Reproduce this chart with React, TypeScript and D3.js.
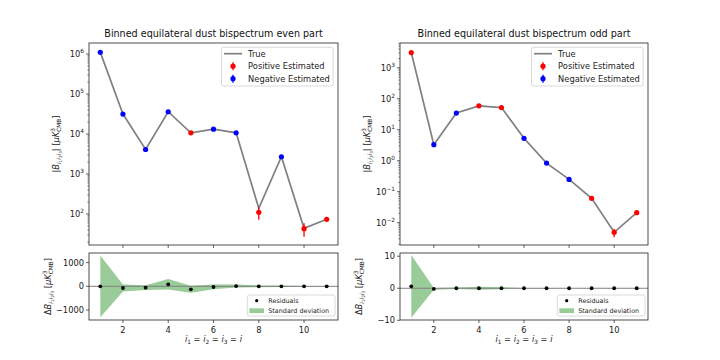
import * as d3 from 'd3';
import React, { useRef, useEffect } from 'react';

const W = 720;
const H = 360;

const bins = [1, 2, 3, 4, 5, 6, 7, 8, 9, 10, 11];
const xTicks = [2, 4, 6, 8, 10];

// even part of the binned bispectrum
const trueEven = [1.1e6, 3.15e4, 4.1e3, 3.6e4, 1.07e4, 1.32e4, 1.07e4, 139, 2.7e3, 44, 74];
const estEven = [-1.1e6, -3.15e4, -4.1e3, -3.6e4, 1.07e4, -1.32e4, -1.07e4, 110, -2.7e3, 43, 74];
const residEven = [0, -70, -55, 85, -125, -28, 12, 0, 0, 0, 0];
const stdEven = [1300, 150, 100, 220, 150, 100, 60, 38, 30, 16, 10];
const resTicksEven = [-1000, 0, 1000];

// odd part
const trueOdd = [3100, 3.3, 34.6, 59, 52, 5.3, 0.84, 0.25, 0.061, 0.0049, 0.021];
const estOdd = [3100, -3.3, -34.6, 59, 52, -5.3, -0.84, -0.25, 0.061, 0.0049, 0.021];
const residOdd = [0.6, -0.2, 0, 0, 0, 0, 0, 0, 0, 0, 0];
const stdOdd = [9.8, 0.3, 0.2, 0.5, 0.3, 0.1, 0.05, 0.02, 0.01, 0.0015, 0.003];
const resTicksOdd = [-10, 0, 10];

const FONT = 'DejaVu Sans, sans-serif';
const fs = 8.3;

// write a little mathtext-ish label with tspans
function mathText(sel, segs) {
  let cur = 0;
  segs.forEach((s) => {
    const ts = sel.append('tspan').text(s.t).style('font-size', `${s.size || fs}px`);
    const shift = s.b || 0;
    if (shift - cur !== 0) ts.attr('dy', shift - cur);
    if (s.dx) ts.attr('dx', s.dx);
    if (s.it) ts.style('font-style', 'italic');
    cur = shift;
  });
}

const subIdx = [
  { t: 'i', size: 5.8, b: 2, it: true },
  { t: '1', size: 4.2, b: 3.4 },
  { t: 'i', size: 5.8, b: 2, it: true },
  { t: '2', size: 4.2, b: 3.4 },
  { t: 'i', size: 5.8, b: 2, it: true },
  { t: '3', size: 4.2, b: 3.4 },
];
const unit = [
  { t: ' [', b: 0 },
  { t: 'μK', it: true, b: 0 },
  { t: '3', size: 5.8, b: -3.6 },
  { t: 'CMB', size: 5.8, b: 2.2, dx: -3.7 },
  { t: ']', b: 0 },
];
const topLabel = [{ t: '|', b: 0 }, { t: 'B', it: true, b: 0 }, ...subIdx, { t: '|', b: 0 }, ...unit];
const botLabel = [{ t: 'Δ', b: 0 }, { t: 'B', it: true, b: 0 }, ...subIdx, ...unit];
const xLabel = [
  { t: 'i', it: true, b: 0 }, { t: '1', size: 5.8, b: 2 }, { t: ' = ', b: 0 },
  { t: 'i', it: true, b: 0 }, { t: '2', size: 5.8, b: 2 }, { t: ' = ', b: 0 },
  { t: 'i', it: true, b: 0 }, { t: '3', size: 5.8, b: 2 }, { t: ' = ', b: 0 },
  { t: 'i', it: true, b: 0 },
];

const supDigits = (e) => (e < 0 ? '−' + Math.abs(e) : String(e));
const fmtLin = (v) => (v < 0 ? '−' + Math.abs(v) : String(v));

function Panel({ x0, x1, title, trueVals, estVals, resid, std, logDomain, resDomain, resTicks }) {
  const ref = useRef(null);

  useEffect(() => {
    const g = d3.select(ref.current);
    g.selectAll('*').remove();
    g.style('font-family', FONT);

    const top0 = 43, top1 = 245, bot0 = 253, bot1 = 320;
    const x = d3.scaleLinear().domain([0.5, 11.5]).range([x0, x1]);
    const y = d3.scaleLog().domain(logDomain).range([top1, top0]);
    const yr = d3.scaleLinear().domain(resDomain).range([bot1, bot0]);

    // ---- top panel ----
    const line = d3.line().x((d, i) => x(bins[i])).y((d) => y(Math.abs(d)));
    g.append('path')
      .datum(trueVals)
      .attr('d', line)
      .attr('fill', 'none')
      .attr('stroke', 'gray')
      .attr('stroke-width', 1.7);

    const pts = g.append('g');
    estVals.forEach((v, i) => {
      const c = v >= 0 ? 'red' : 'blue';
      const a = Math.abs(v);
      const lo = Math.max(a - std[i], logDomain[0]);
      pts.append('line')
        .attr('x1', x(bins[i])).attr('x2', x(bins[i]))
        .attr('y1', y(lo)).attr('y2', y(a + std[i]))
        .attr('stroke', c).attr('stroke-width', 1.3);
      pts.append('circle')
        .attr('cx', x(bins[i])).attr('cy', y(a))
        .attr('r', 2.6).attr('fill', c);
    });

    // log ticks
    const [lo, hi] = logDomain;
    const eLo = Math.floor(Math.log10(lo));
    const eHi = Math.ceil(Math.log10(hi));
    for (let e = eLo; e <= eHi; e++) {
      for (let k = 1; k <= 9; k++) {
        const v = k * Math.pow(10, e);
        if (v < lo || v > hi) continue;
        const yy = y(v);
        g.append('line')
          .attr('x1', x0).attr('x2', x0 - (k === 1 ? 3 : 1.7))
          .attr('y1', yy).attr('y2', yy)
          .attr('stroke', '#222').attr('stroke-width', k === 1 ? 0.7 : 0.5);
        if (k === 1) {
          const t = g.append('text')
            .attr('x', x0 - 5).attr('y', yy + 3)
            .attr('text-anchor', 'end')
            .attr('fill', '#222');
          t.append('tspan').text('10').style('font-size', `${fs}px`);
          t.append('tspan').text(supDigits(e)).style('font-size', '5.8px').attr('dy', -3.8);
        }
      }
    }
    xTicks.forEach((v) => {
      g.append('line')
        .attr('x1', x(v)).attr('x2', x(v))
        .attr('y1', top1).attr('y2', top1 + 3)
        .attr('stroke', '#222').attr('stroke-width', 0.7);
    });

    g.append('rect')
      .attr('x', x0).attr('y', top0)
      .attr('width', x1 - x0).attr('height', top1 - top0)
      .attr('fill', 'none').attr('stroke', '#222').attr('stroke-width', 0.8);

    g.append('text')
      .attr('x', (x0 + x1) / 2).attr('y', top0 - 6)
      .attr('text-anchor', 'middle')
      .style('font-size', '9.6px')
      .attr('fill', '#111')
      .text(title);

    const yl = g.append('text')
      .attr('transform', `translate(${x0 - 30},${(top0 + top1) / 2}) rotate(-90)`)
      .attr('text-anchor', 'middle').attr('fill', '#222');
    mathText(yl, topLabel);

    // legend (top)
    const lx = x1 - 116.5, ly = 47.3;
    const lg = g.append('g');
    lg.append('rect')
      .attr('x', lx).attr('y', ly).attr('width', 111.6).attr('height', 38.7)
      .attr('rx', 2).attr('fill', 'white').attr('fill-opacity', 0.8)
      .attr('stroke', '#d0d0d0').attr('stroke-width', 0.8);
    const rows = [
      { label: 'True', kind: 'line', c: 'gray' },
      { label: 'Positive Estimated', kind: 'err', c: 'red' },
      { label: 'Negative Estimated', kind: 'err', c: 'blue' },
    ];
    rows.forEach((r, i) => {
      const cy = ly + 6.4 + i * 12.5;
      if (r.kind === 'line') {
        lg.append('line').attr('x1', lx + 2.5).attr('x2', lx + 20.5)
          .attr('y1', cy).attr('y2', cy).attr('stroke', r.c).attr('stroke-width', 1.7);
      } else {
        lg.append('line').attr('x1', lx + 11.5).attr('x2', lx + 11.5)
          .attr('y1', cy - 4).attr('y2', cy + 4).attr('stroke', r.c).attr('stroke-width', 1.3);
        lg.append('circle').attr('cx', lx + 11.5).attr('cy', cy).attr('r', 2.6).attr('fill', r.c);
      }
      lg.append('text').attr('x', lx + 26.6).attr('y', cy + 3)
        .style('font-size', `${fs}px`).attr('fill', '#222').text(r.label);
    });

    // ---- residual panel ----
    const area = d3.area()
      .x((d, i) => x(bins[i]))
      .y0((d, i) => yr(d - std[i]))
      .y1((d, i) => yr(d + std[i]));
    g.append('path')
      .datum(resid)
      .attr('d', area)
      .attr('fill', 'green').attr('fill-opacity', 0.4);

    g.append('line')
      .attr('x1', x0).attr('x2', x1)
      .attr('y1', yr(0)).attr('y2', yr(0))
      .attr('stroke', 'gray').attr('stroke-width', 1);

    resid.forEach((v, i) => {
      g.append('circle').attr('cx', x(bins[i])).attr('cy', yr(v)).attr('r', 1.9).attr('fill', 'black');
    });

    resTicks.forEach((v) => {
      g.append('line')
        .attr('x1', x0).attr('x2', x0 - 3)
        .attr('y1', yr(v)).attr('y2', yr(v))
        .attr('stroke', '#222').attr('stroke-width', 0.7);
      g.append('text')
        .attr('x', x0 - 5).attr('y', yr(v) + 3)
        .attr('text-anchor', 'end')
        .style('font-size', `${fs}px`).attr('fill', '#222')
        .text(fmtLin(v));
    });
    xTicks.forEach((v) => {
      g.append('line')
        .attr('x1', x(v)).attr('x2', x(v))
        .attr('y1', bot1).attr('y2', bot1 + 3)
        .attr('stroke', '#222').attr('stroke-width', 0.7);
      g.append('text')
        .attr('x', x(v)).attr('y', bot1 + 12.5)
        .attr('text-anchor', 'middle')
        .style('font-size', `${fs}px`).attr('fill', '#222')
        .text(v);
    });

    g.append('rect')
      .attr('x', x0).attr('y', bot0)
      .attr('width', x1 - x0).attr('height', bot1 - bot0)
      .attr('fill', 'none').attr('stroke', '#222').attr('stroke-width', 0.8);

    const bl = g.append('text')
      .attr('transform', `translate(${x0 - 38},${(bot0 + bot1) / 2}) rotate(-90)`)
      .attr('text-anchor', 'middle').attr('fill', '#222');
    mathText(bl, botLabel);

    const xl = g.append('text')
      .attr('x', (x0 + x1) / 2).attr('y', 341.5)
      .attr('text-anchor', 'middle').attr('fill', '#222');
    mathText(xl, xLabel);

    // legend (residuals)
    const rx = x1 - 90.7, ry = 295;
    const rg = g.append('g');
    rg.append('rect')
      .attr('x', rx).attr('y', ry).attr('width', 87.7).attr('height', 21)
      .attr('rx', 2).attr('fill', 'white').attr('fill-opacity', 0.8)
      .attr('stroke', '#d0d0d0').attr('stroke-width', 0.8);
    rg.append('circle').attr('cx', rx + 9.4).attr('cy', ry + 5.7).attr('r', 1.6).attr('fill', 'black');
    rg.append('text').attr('x', rx + 21).attr('y', ry + 8)
      .style('font-size', '6.4px').attr('fill', '#222').text('Residuals');
    rg.append('rect').attr('x', rx + 2).attr('y', ry + 13.3).attr('width', 14.7).attr('height', 4.8)
      .attr('fill', 'green').attr('fill-opacity', 0.4);
    rg.append('text').attr('x', rx + 21).attr('y', ry + 18)
      .style('font-size', '6.4px').attr('fill', '#222').text('Standard deviation');
  }, [x0, x1, title, trueVals, estVals, resid, std, logDomain, resDomain, resTicks]);

  return <g ref={ref} />;
}

export default function App() {
  return (
    <svg width={W} height={H} style={{ position: 'absolute', left: 0, top: 0, background: 'white' }}>
      <Panel
        x0={89}
        x1={338}
        title="Binned equilateral dust bispectrum even part"
        trueVals={trueEven}
        estVals={estEven}
        resid={residEven}
        std={stdEven}
        logDomain={[Math.pow(10, 1.225), Math.pow(10, 6.275)]}
        resDomain={[-1420, 1405]}
        resTicks={resTicksEven}
      />
      <Panel
        x0={400}
        x1={648}
        title="Binned equilateral dust bispectrum odd part"
        trueVals={trueOdd}
        estVals={estOdd}
        resid={residOdd}
        std={stdOdd}
        logDomain={[Math.pow(10, -2.72), Math.pow(10, 3.8)]}
        resDomain={[-9.9, 11.0]}
        resTicks={resTicksOdd}
      />
    </svg>
  );
}
